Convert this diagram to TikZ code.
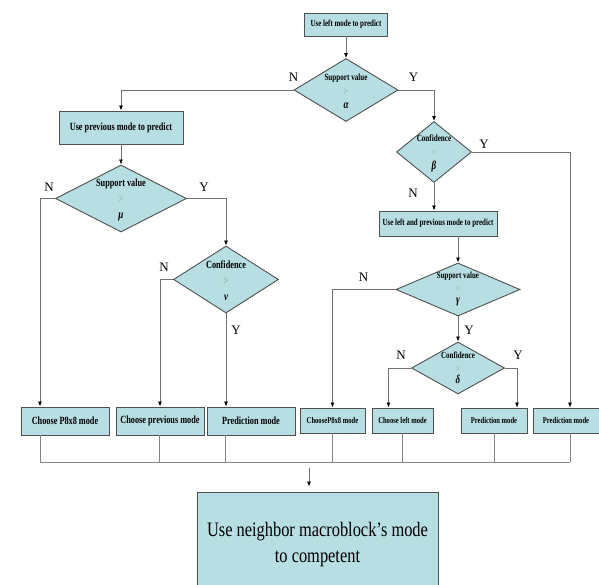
\documentclass[tikz,border=0pt]{standalone}
\usepackage{fontspec}
\usepackage{tikz}
\usetikzlibrary{shapes.geometric}
\usetikzlibrary{arrows.meta}

\newfontfamily\boxfont[FakeStretch=0.75]{Liberation Serif}
\newfontfamily\bigfont[FakeStretch=0.8]{Liberation Serif}
\newfontfamily\ynfont{Liberation Serif}

\definecolor{boxfill}{RGB}{183,222,226}
\definecolor{boxline}{RGB}{80,80,80}
\definecolor{flowline}{RGB}{112,112,112}
\definecolor{gtgray}{RGB}{135,148,155}

\newcommand{\condtext}[2]{\textbf{#1}\\{\color{gtgray}>}\\{\bfseries\itshape\large #2}}

\begin{document}
\begin{tikzpicture}[x=1pt,y=-1pt,
  box/.style={draw=boxline,fill=boxfill,line width=0.9pt,inner sep=0pt,font=\boxfont\bfseries\fontsize{9.3}{10}\selectfont},
  bigbox/.style={box,font=\boxfont\bfseries\fontsize{11}{12}\selectfont},
  dec/.style={diamond,draw=boxline,fill=boxfill,line width=0.9pt,inner sep=0pt},
  dtext/.style={align=center,inner sep=0pt,font=\boxfont\fontsize{9.5}{14}\selectfont},
  bigdtext/.style={dtext,font=\boxfont\fontsize{11}{16}\selectfont},
  yn/.style={inner sep=1pt,font=\ynfont\fontsize{13}{13}\selectfont},
  flow/.style={draw=flowline,line width=0.8pt,-{Latex[length=5pt,width=4pt,color=black]}},
  busline/.style={draw=flowline!85,line width=0.8pt}]
  \useasboundingbox (0,0) rectangle (599,585);

  %top
  \node[box,minimum width=83pt,minimum height=23pt] (leftpred) at (346,24.5) {Use left mode to predict};
  \node[dec,minimum width=104pt,minimum height=63pt] (alpha) at (346,90) {};
  \node[dtext,at=(alpha.center),yshift=-1pt] (alpha-t) {\condtext{Support value}{α}};
  \node[yn,at=(alpha.west),above=7pt] (alpha-n) {N};
  \node[yn,at=(alpha.east),above=7pt,xshift=15pt] (alpha-y) {Y};

  %left
  \node[bigbox,minimum width=124pt,minimum height=33pt] (prevpred) at (121,127.5) {Use previous mode to predict};
  \node[dec,minimum width=131pt,minimum height=67pt] (mu) at (121,198.5) {};
  \node[bigdtext,at=(mu.center),yshift=-1pt] (mu-t) {\condtext{Support value}{μ}};
  \node[yn,at=(mu.west),above=6pt,xshift=-6pt] (mu-n) {N};
  \node[yn,at=(mu.east),above=6pt,xshift=17pt] (mu-y) {Y};
  \node[dec,minimum width=105pt,minimum height=67pt] (nu) at (226,279.5) {};
  \node[bigdtext,at=(nu.center),yshift=-1pt] (nu-t) {\condtext{Confidence}{ν}};
  \node[yn,at=(nu.west),above=7pt,xshift=-9pt] (nu-n) {N};
  \node[yn,at=(nu.south),below=11pt,xshift=10pt] (nu-y) {Y};

  \node[bigbox,minimum width=88pt,minimum height=28pt] (p8L) at (65,421) {Choose P8x8 mode};
  \node[bigbox,minimum width=88pt,minimum height=28pt] (prevL) at (160,421) {Choose previous mode};
  \node[bigbox,minimum width=88pt,minimum height=28pt] (predL) at (251,421) {Prediction mode};

  %right
  \node[dec,minimum width=75pt,minimum height=61pt] (beta) at (434,152) {};
  \node[dtext,at=(beta.center),yshift=-1pt] (beta-t) {\condtext{Confidence}{β}};
  \node[yn,at=(beta.east),above=2pt,xshift=12pt] (beta-y) {Y};
  \node[yn,at=(beta.south),below=5pt,xshift=-21pt] (beta-n) {N};
  \node[box,minimum width=118pt,minimum height=25pt] (lppred) at (438,223.5) {Use left and previous mode to predict};
  \node[dec,minimum width=124pt,minimum height=53pt] (gamma) at (458,289.5) {};
  \node[dtext,font=\boxfont\fontsize{9.3}{12.5}\selectfont,at=(gamma.center)] (gamma-t) {\condtext{Support value}{γ}};
  \node[yn,at=(gamma.west),above=7pt,xshift=-32pt] (gamma-n) {N};
  \node[yn,at=(gamma.south),below=8pt,xshift=11pt] (gamma-y) {Y};
  \node[dec,minimum width=93pt,minimum height=52pt] (delta) at (458,368) {};
  \node[dtext,font=\boxfont\fontsize{9.3}{12.5}\selectfont,at=(delta.center)] (delta-t) {\condtext{Confidence}{δ}};
  \node[yn,at=(delta.west),above=7pt,xshift=-10pt] (delta-n) {N};
  \node[yn,at=(delta.east),above=7pt,xshift=13pt] (delta-y) {Y};

  \node[box,font=\boxfont\bfseries\fontsize{8.8}{10}\selectfont,minimum width=65pt,minimum height=25pt] (p8R) at (332.5,420.5) {ChooseP8x8 mode};
  \node[box,font=\boxfont\bfseries\fontsize{8.8}{10}\selectfont,minimum width=61pt,minimum height=25pt] (leftR) at (402.5,420.5) {Choose left mode};
  \node[box,font=\boxfont\bfseries\fontsize{8.8}{10}\selectfont,minimum width=66pt,minimum height=25pt] (predR1) at (494,420.5) {Prediction mode};
  \node[box,font=\boxfont\bfseries\fontsize{8.8}{10}\selectfont,minimum width=66pt,minimum height=25pt] (predR2) at (566,420.5) {Prediction mode};

  %bottom
  \node[box,font=\bigfont\fontsize{20.5}{26}\selectfont,align=center,minimum width=241pt,minimum height=105pt] (neighbor) at (317.5,544.5) {Use neighbor macroblock’s mode\\to competent};
  \coordinate (bus) at (0,462);
  \coordinate (join) at (309,462);

  %connectors
  \draw[flow] (leftpred.south) -- (alpha.north);
  \draw[flow] (alpha.west) -| (prevpred.north);
  \draw[flow] (alpha.east) -| (beta.north);
  \draw[flow] (prevpred.south) -- (mu.north);
  \draw[flow] (mu.west) -| ([xshift=-25pt]p8L.north);
  \draw[flow] (mu.east) -| (nu.north);
  \draw[flow] (nu.west) -| (prevL.north);
  \draw[flow] (nu.south) -- (nu.south |- predL.north);
  \draw[flow] (beta.east) -| ([xshift=4pt]predR2.north);
  \draw[flow] (beta.south) -- (beta.south |- lppred.north);
  \draw[flow] (gamma.north |- lppred.south) -- (gamma.north);
  \draw[flow] (gamma.west) -| (p8R.north);
  \draw[flow] (gamma.south) -- (delta.north);
  \draw[flow] (delta.west) -| ([xshift=-14pt]leftR.north);
  \draw[flow] (delta.east) -| ([xshift=23pt]predR1.north);

  \foreach \n/\s in {p8L/-25,prevL/-1,predL/-26,p8R/0,leftR/0,predR1/0,predR2/4}
    \draw[busline] ([xshift=\s pt]\n.south) -- ([xshift=\s pt]\n.south |- bus);
  \draw[busline] ([xshift=-25pt]p8L.south |- bus) -- ([xshift=4pt]predR2.south |- bus);
  \draw[flow,shorten <=6pt,shorten >=5pt] (join) -- (join |- neighbor.north);
\end{tikzpicture}
\end{document}
